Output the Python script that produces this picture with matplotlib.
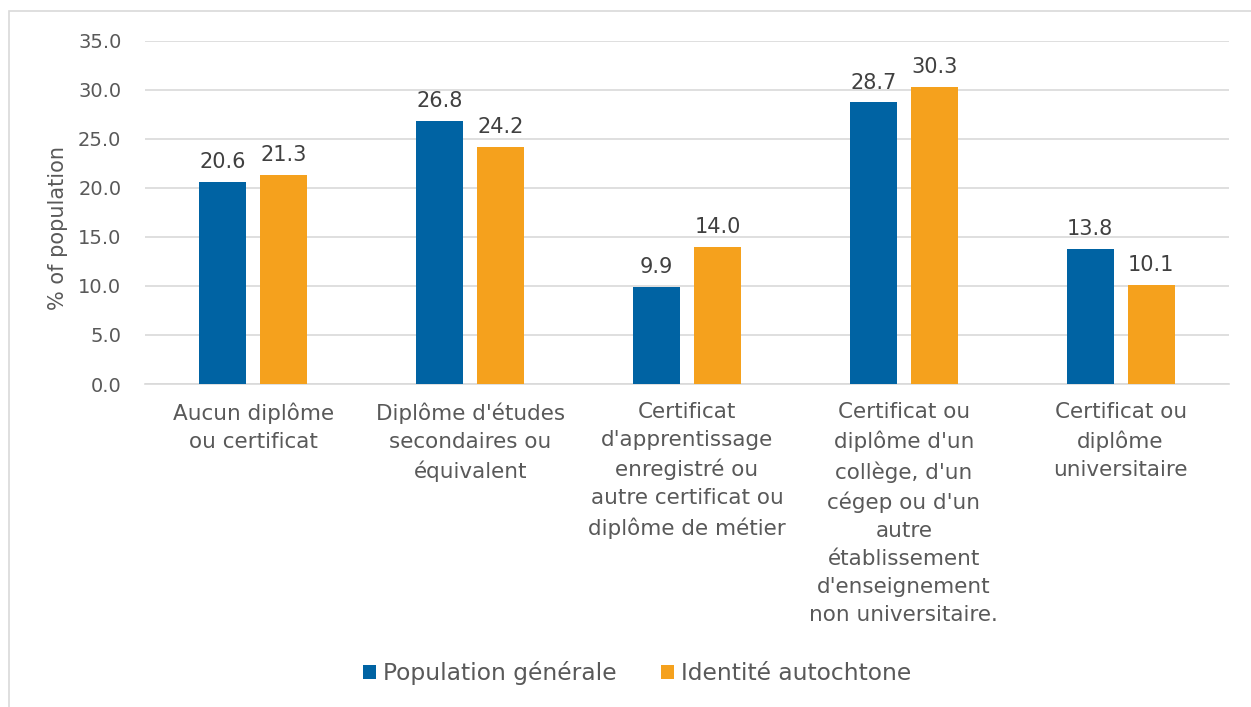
import numpy as np
import matplotlib.pyplot as plt
from matplotlib.patches import Rectangle

# data
categories = ["Aucun diplôme\nou certificat",
              "Diplôme d'études\nsecondaires ou\néquivalent",
              "Certificat\nd'apprentissage\nenregistré ou\nautre certificat ou\ndiplôme de métier",
              "Certificat ou\ndiplôme d'un\ncollège, d'un\ncégep ou d'un\nautre\nétablissement\nd'enseignement\nnon universitaire.",
              "Certificat ou\ndiplôme\nuniversitaire"]
pop_generale = [20.6, 26.8, 9.9, 28.7, 13.8]
autochtone = [21.3, 24.2, 14.0, 30.3, 10.1]
series_names = ["Population générale", "Identité autochtone"]

blue = '#0063A3'
orange = '#F5A11D'
grey = '#595959'

plt.rcParams['font.family'] = ['DejaVu Sans']

fig = plt.figure(figsize=(12.51, 7.07), dpi=100)
ax = fig.add_axes([145/1251, 1-384/707, (1229-145)/1251, (384-40.7)/707])

x = np.arange(len(categories))
w = 0.217
off = 0.141
b1 = ax.bar(x - off, pop_generale, w, color=blue, label=series_names[0], zorder=3)
b2 = ax.bar(x + off, autochtone, w, color=orange, label=series_names[1], zorder=3)

for bars in (b1, b2):
    for b in bars:
        ax.annotate(f"{b.get_height():.1f}", (b.get_x() + b.get_width()/2, b.get_height()),
                    xytext=(0, 7), textcoords='offset points', ha='center', va='bottom',
                    fontsize=15, color='#404040')

ax.set_xlim(-0.5, len(categories) - 0.5)
ax.set_ylim(0, 35)
ax.set_yticks(np.arange(0, 35.1, 5))
ax.set_yticklabels([f"{v:.1f}" for v in np.arange(0, 35.1, 5)])
ax.set_xticks(x)
ax.set_xticklabels(categories, linespacing=1.5)
ax.tick_params(axis='both', length=0, labelsize=15.5, labelcolor=grey)
ax.tick_params(axis='y', labelsize=14, pad=17)
ax.tick_params(axis='x', pad=13)
ax.yaxis.grid(True, color='#D9D9D9', linewidth=1.2, zorder=0)
for s in ['top', 'right', 'left']:
    ax.spines[s].set_visible(False)
ax.spines['bottom'].set_color('#D9D9D9')
ax.spines['bottom'].set_linewidth(1.2)

fig.text(58/1251, 1-228/707, "% of population", rotation=90, ha='center', va='center',
         fontsize=15, color=grey)

fig.legend(handles=[b1, b2], labels=series_names, loc='center', bbox_to_anchor=(0.5096, 1-673/707),
           ncol=2, frameon=False, fontsize=16.8, labelcolor=grey, handlelength=0.56,
           handleheight=0.56, handletextpad=0.3, columnspacing=1.9)

# outer chart frame (only top and left edges visible in the crop)
fig.patches.append(Rectangle((9/1251, -0.1), 1.2, 1 - 11/707 + 0.1, transform=fig.transFigure,
                             fill=False, edgecolor='#D9D9D9', linewidth=1.2))

fig.savefig('out.png', dpi=100)
